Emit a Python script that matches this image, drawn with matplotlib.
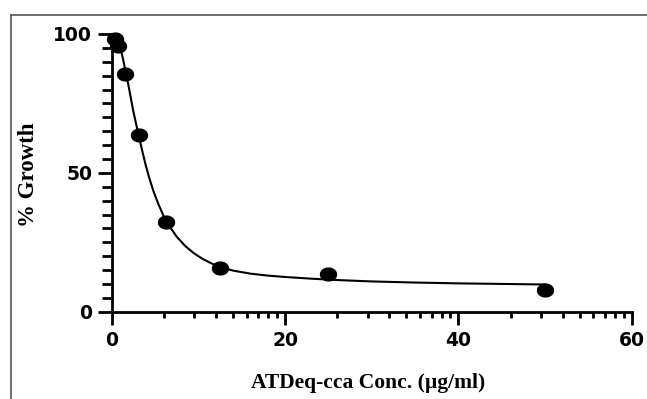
import numpy as np
import matplotlib
matplotlib.use("Agg")
import matplotlib.pyplot as plt
from matplotlib.lines import Line2D
from matplotlib.path import Path
from matplotlib.ticker import FixedLocator, MultipleLocator

# measured points
conc = [0.39, 0.78, 1.56, 3.125, 6.25, 12.5, 25, 50]
growth = [98.2, 95.8, 85.6, 63.6, 32.4, 15.8, 13.6, 7.8]

# fitted curve
fit_x = [0.39, 0.7, 1.0, 1.3, 1.6, 1.9, 2.2, 2.5, 2.8, 3.1, 3.5, 3.9, 4.3, 4.8,
         5.4, 6.0, 6.7, 7.5, 8.5, 9.5, 10.5, 11.5, 12.5, 14, 16, 18, 20, 23,
         26, 30, 35, 40, 45, 50]
fit_y = [98.8, 97.3, 95.0, 91.0, 86.5, 82.0, 77.0, 72.0, 67.8, 63.6, 58.2, 53.0,
         48.5, 43.5, 38.6, 34.4, 30.6, 27.0, 23.6, 21.0, 19.0, 17.4, 16.1, 14.8,
         13.7, 13.0, 12.5, 11.9, 11.4, 10.9, 10.5, 10.2, 10.0, 9.8]

x_major = [0, 20, 40, 60]
y_major = [0, 50, 100]

fig = plt.figure(figsize=(6.47, 3.99), dpi=100)
ax = fig.add_axes([0.1727, 0.2188, 0.8037, 0.696])

# slightly wide dot, as in the reference
t = np.linspace(0, 2 * np.pi, 60)
dot = Path(np.column_stack([np.cos(t), 0.8 * np.sin(t)]), closed=True)

ax.plot(fit_x, fit_y, color="black", lw=1.5, zorder=2)
ax.plot(conc, growth, linestyle="none", marker=dot, color="black", ms=11.5,
        zorder=3, clip_on=False)

ax.set_xlim(0, 60)
ax.set_ylim(0, 100)

for s in ["top", "right"]:
    ax.spines[s].set_visible(False)
for s in ["left", "bottom"]:
    ax.spines[s].set_linewidth(2)

ax.xaxis.set_major_locator(FixedLocator(x_major))
# GraphPad-style log spaced minor ticks inside each 20-unit segment
minors = []
for start in [0, 20, 40]:
    for k in range(2, 10):
        minors.append(start + 20 * np.log10(k))
ax.xaxis.set_minor_locator(FixedLocator(minors))
ax.yaxis.set_major_locator(FixedLocator(y_major))
ax.yaxis.set_minor_locator(MultipleLocator(5))

ax.tick_params(axis="x", which="major", length=9, width=2, direction="out", pad=5)
ax.tick_params(axis="x", which="minor", length=4, width=2, direction="out")
ax.tick_params(axis="y", which="major", length=10, width=2, direction="out", pad=4)
ax.tick_params(axis="y", which="minor", length=7, width=2, direction="out")

for lab in ax.get_xticklabels() + ax.get_yticklabels():
    lab.set_fontfamily("DejaVu Sans")
    lab.set_fontweight("bold")
    lab.set_fontsize(13.5)

ax.set_xlabel("ATDeq-cca Conc. (\u00b5g/ml)", family="Liberation Serif",
              fontweight="bold", fontsize=15.5, va="center")
ax.set_ylabel("% Growth", family="Liberation Serif", fontweight="bold",
              fontsize=16.5, va="center")
ax.xaxis.set_label_coords(0.494, -0.256)
ax.yaxis.set_label_coords(-0.161, 0.492)

# outer grey frame (top and left edges)
fig.add_artist(Line2D([11 / 647, 11 / 647], [0, 1 - 15 / 399], color="#555555",
                      lw=1.2, transform=fig.transFigure))
fig.add_artist(Line2D([11 / 647, 1], [1 - 15 / 399, 1 - 15 / 399], color="#555555",
                      lw=1.2, transform=fig.transFigure))

fig.savefig("out.png", dpi=100)
